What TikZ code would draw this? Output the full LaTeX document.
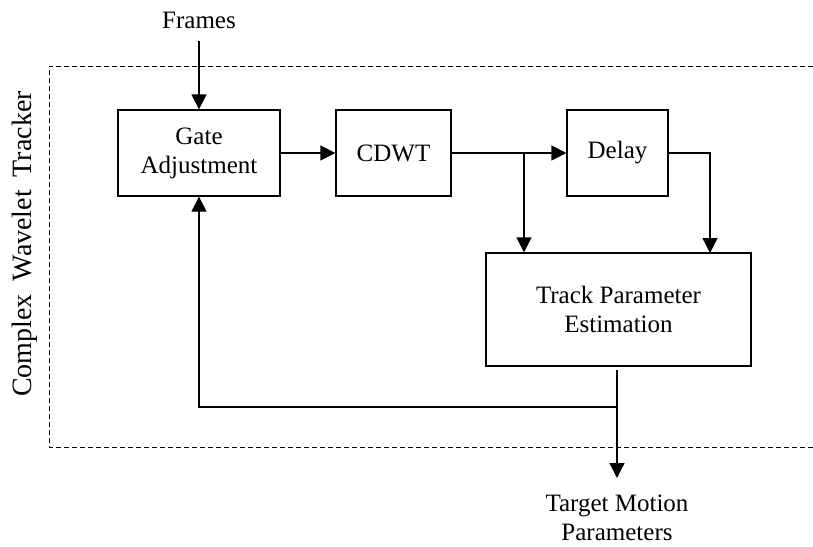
\documentclass[tikz,border=0pt]{standalone}
\usepackage{fontspec}
\setmainfont{Liberation Serif}
\usetikzlibrary{arrows.meta}
\begin{document}
\begin{tikzpicture}[x=1pt,y=-1pt,
  every node/.style={font=\fontsize{25}{29}\selectfont},
  block/.style={draw,line width=1.3pt,align=center,inner sep=0pt},
  label/.style={align=center,inner sep=0pt},
  conn/.style={line width=1.3pt},
  arr/.style={conn,-{Triangle[length=15pt,width=15pt]}},
  frame/.style={line width=1pt,dash pattern=on 5pt off 3pt}]
\useasboundingbox (0,0) rectangle (813,546);
% enclosing tracker boundary (open on the right)
\draw[frame] (813,66) -- (49,66) -- (49,447) -- (813,447);
\node[label,rotate=90,font=\fontsize{28}{32}\selectfont] (tracker) at (25,244)
  {Complex\hspace{13pt}Wavelet\hspace{13pt}Tracker};
% processing blocks
\node[block,minimum width=162pt,minimum height=86pt] (gate) at (199,153) {Gate\\Adjustment};
\node[block,minimum width=115pt,minimum height=86pt] (cdwt) at (393.5,153) {CDWT};
\node[block,minimum width=101pt,minimum height=86pt] (delay) at (617.5,153) {Delay};
\node[block,minimum width=265pt,minimum height=113pt] (track) at (618.5,309.5) {Track Parameter\\Estimation};
% input and output labels
\node[label] (frames) at (199,20) {Frames};
\node[label] (target) at (617,518) {Target Motion\\Parameters};
% helper points
\coordinate (split) at (524,153);
\coordinate (ret) at (617,407);
\coordinate (inp) at (199,41);
\coordinate (outs) at (617,370);
% connectors
\draw[arr] (inp) -- (gate.north);
\draw[arr] (gate.east) -- (cdwt.west);
\draw[arr] (cdwt.east) -- (delay.west);
\draw[arr] (split) -- (split |- track.north);
\draw[arr] (delay.east) -- (710,153) -- (710,253);
\draw[arr] (outs) -- (617,478);
\draw[arr] (ret) -| (gate.south);
\end{tikzpicture}
\end{document}
